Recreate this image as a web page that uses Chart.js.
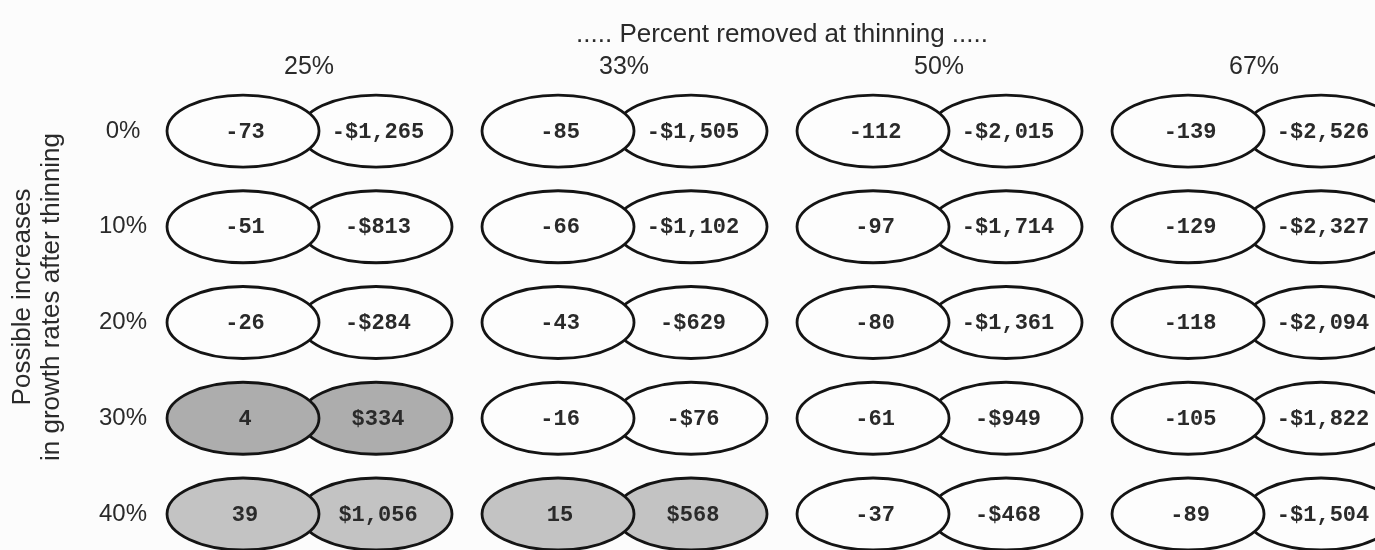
<!DOCTYPE html>
<html>
<head>
<meta charset="utf-8">
<title>Percent removed at thinning</title>
<script src="https://cdn.jsdelivr.net/npm/chart.js@4.4.1/dist/chart.umd.min.js"></script>
<style>
  html, body { margin: 0; background: #fcfcfc; }
  #wrap { width: 1375px; height: 550px; position: relative; }
</style>
</head>
<body>
<div id="wrap"><canvas id="ovals"></canvas></div>
<script>
const removedLabels = ['25%', '33%', '50%', '67%'];
const growthLabels = ['0%', '10%', '20%', '30%', '40%'];
const growthValues = [0, 10, 20, 30, 40];

// left oval of each pair, rows go 0%..40% growth increase
const volume25 = [-73, -51, -26, 4, 39];
const volume33 = [-85, -66, -43, -16, 15];
const volume50 = [-112, -97, -80, -61, -37];
const volume67 = [-139, -129, -118, -105, -89];

// right oval of each pair, dollars
const dollars25 = [-1265, -813, -284, 334, 1056];
const dollars33 = [-1505, -1102, -629, -76, 568];
const dollars50 = [-2015, -1714, -1361, -949, -468];
const dollars67 = [-2526, -2327, -2094, -1822, -1504];

const volumeCols = [volume25, volume33, volume50, volume67];
const dollarCols = [dollars25, dollars33, dollars50, dollars67];

const SANS = '"Liberation Sans", Arial, Helvetica, sans-serif';
const MONO = '"Liberation Mono", "Courier New", monospace';
const INK = '#2a2a2a';

function points(cols) {
  const out = [];
  cols.forEach((col, c) => {
    col.forEach((v, r) => out.push({ x: c, y: growthValues[r], v: v }));
  });
  return out;
}

function money(v) {
  return (v < 0 ? '-$' : '$') + Math.abs(v).toLocaleString('en-US');
}

function ovalFill(pt) {
  if (pt.v <= 0) return '#fdfdfd';
  return pt.y >= 40 ? '#c3c3c3' : '#adadad';
}

const RX = 76, RY = 36;

const ovalPlugin = {
  id: 'ovals',
  afterDatasetsDraw(chart) {
    const ctx = chart.ctx;
    // right ovals first so the left one sits on top of the overlap
    const sets = [
      { idx: 1, dx: 67, fmt: money },
      { idx: 0, dx: -66, fmt: v => String(v) }
    ];
    ctx.save();
    sets.forEach(s => {
      const raw = chart.data.datasets[s.idx].data;
      chart.getDatasetMeta(s.idx).data.forEach((el, i) => {
        ctx.beginPath();
        ctx.ellipse(el.x + s.dx, el.y, RX, RY, 0, 0, Math.PI * 2);
        ctx.fillStyle = ovalFill(raw[i]);
        ctx.fill();
        ctx.lineWidth = 2.8;
        ctx.strokeStyle = '#141414';
        ctx.stroke();
      });
    });
    ctx.font = 'bold 22px ' + MONO;
    ctx.fillStyle = INK;
    ctx.textAlign = 'center';
    ctx.textBaseline = 'middle';
    sets.forEach(s => {
      const raw = chart.data.datasets[s.idx].data;
      chart.getDatasetMeta(s.idx).data.forEach((el, i) => {
        ctx.fillText(s.fmt(raw[i].v), el.x + s.dx + 2, el.y + 1);
      });
    });
    ctx.restore();
  }
};

new Chart(document.getElementById('ovals'), {
  type: 'scatter',
  data: {
    datasets: [
      { label: 'Volume', data: points(volumeCols), pointRadius: 0 },
      { label: 'Dollars', data: points(dollarCols), pointRadius: 0 }
    ]
  },
  options: {
    responsive: true,
    maintainAspectRatio: false,
    animation: false,
    layout: { padding: { top: 0, left: 0, right: 0, bottom: 36 } },
    plugins: { legend: { display: false }, tooltip: { enabled: false } },
    scales: {
      x: {
        type: 'linear',
        position: 'top',
        min: -0.381,
        max: 3.384,
        grid: { display: false, drawTicks: false },
        border: { display: false },
        afterBuildTicks: s => { s.ticks = removedLabels.map((_, i) => ({ value: i })); },
        afterFit: s => { s.height = 80; s.paddingLeft = 0; s.paddingRight = 0; },
        ticks: {
          autoSkip: false,
          maxRotation: 0,
          padding: -2,
          color: INK,
          font: { family: SANS, size: 25 },
          callback: v => removedLabels[v]
        },
        title: {
          display: true,
          text: '..... Percent removed at thinning .....',
          color: INK,
          font: { family: SANS, size: 26 },
          padding: { top: 19, bottom: 0 }
        }
      },
      y: {
        type: 'linear',
        reverse: true,
        min: -5.33,
        max: 40,
        grid: { display: false, drawTicks: false },
        border: { display: false },
        afterBuildTicks: s => { s.ticks = growthValues.map(v => ({ value: v })); },
        afterFit: s => { s.width = 189; s.paddingTop = 0; s.paddingBottom = 0; },
        ticks: {
          autoSkip: false,
          crossAlign: 'center',
          padding: 42,
          color: INK,
          font: { family: SANS, size: 24 },
          callback: v => growthLabels[growthValues.indexOf(v)]
        },
        title: {
          display: true,
          text: ['Possible increases', 'in growth rates after thinning'],
          color: INK,
          font: { family: SANS, size: 26, lineHeight: 1.12 },
          padding: { top: 8.5, bottom: 0 }
        }
      }
    }
  },
  plugins: [ovalPlugin]
});
</script>
</body>
</html>
